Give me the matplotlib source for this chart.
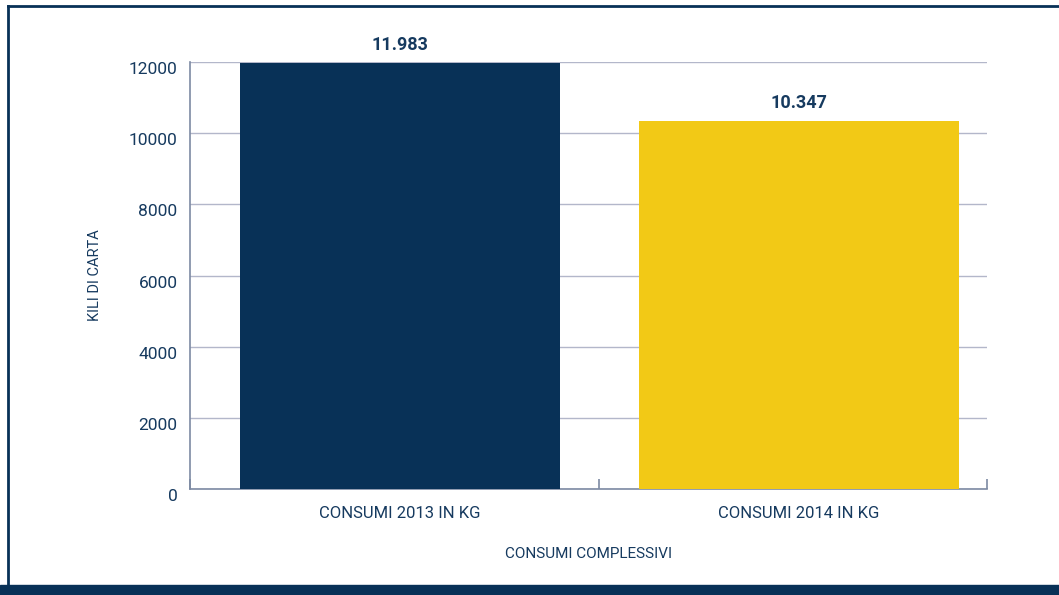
import matplotlib
matplotlib.use("Agg")
import matplotlib.pyplot as plt
import matplotlib.transforms as mtransforms
from matplotlib.patches import Rectangle
from matplotlib.lines import Line2D

categories = ["CONSUMI 2013 IN KG", "CONSUMI 2014 IN KG"]
values = [11983, 10347]
value_labels = ["11.983", "10.347"]
yticks = [0, 2000, 4000, 6000, 8000, 10000, 12000]

plt.rcParams['font.family'] = ['Roboto', 'DejaVu Sans']
TXT = "#163a5f"
DARK = "#083157"
YEL = "#f2c916"
GRID = "#b3b7ca"
SPINE = "#7d8aa3"

fig = plt.figure(figsize=(10.59, 5.95), dpi=100)
ax = fig.add_axes([190/1059, 1-489/595, (987-190)/1059, (489-62)/595])

x = list(range(len(categories)))
ax.bar(x, values, width=0.8, color=[DARK, YEL], zorder=3)
for xi, v, lab in zip(x, values, value_labels):
    ax.text(xi, v + 250, lab, ha='center', va='bottom', fontsize=13,
            fontweight='bold', color=TXT)

ax.set_xlim(-0.526, 1.471)
ax.set_ylim(0, 12000)
ax.set_yticks(yticks)
ax.set_yticklabels([str(t) for t in yticks])
ax.set_xticks(x)
ax.set_xticklabels(categories)
ax.set_xticks([-0.526, 0.5, 1.471], minor=True)
ax.tick_params(axis='x', which='major', length=0, pad=12, labelsize=12, labelcolor=TXT)
ax.tick_params(axis='x', which='minor', direction='in', length=7, width=1.2, color=SPINE)
ax.tick_params(axis='y', length=0, pad=9, labelsize=12.5, labelcolor=TXT)
offset = mtransforms.ScaledTranslation(0, -6/100, fig.dpi_scale_trans)
for lbl in ax.get_yticklabels():
    lbl.set_transform(lbl.get_transform() + offset)
ax.yaxis.grid(True, color=GRID, linewidth=1, zorder=0)
ax.set_axisbelow(True)
for s in ['top', 'right']:
    ax.spines[s].set_visible(False)
for s in ['left', 'bottom']:
    ax.spines[s].set_color(SPINE)
    ax.spines[s].set_linewidth(1.2)

ax.set_ylabel("KILI DI CARTA", fontsize=10.5, color=TXT, labelpad=19)
ax.set_xlabel("CONSUMI COMPLESSIVI", fontsize=11, color=TXT, labelpad=19)

# frame
fig.add_artist(Line2D([8/1059, 8/1059], [0, 1-6/595], transform=fig.transFigure,
                      color=DARK, linewidth=2))
fig.add_artist(Line2D([8/1059, 1], [1-6/595, 1-6/595], transform=fig.transFigure,
                      color=DARK, linewidth=2))
fig.add_artist(Rectangle((0, 0), 1, 10/595, transform=fig.transFigure,
                         color=DARK, zorder=5))

fig.savefig("out.png", dpi=100)
